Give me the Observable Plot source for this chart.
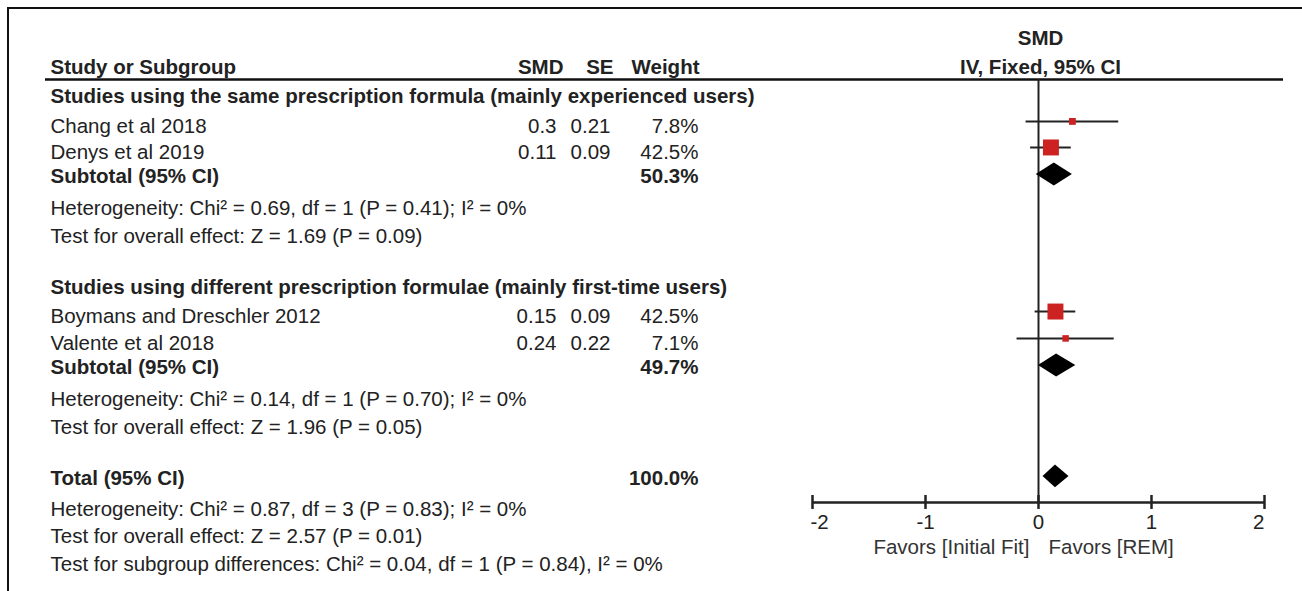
<!DOCTYPE html>
<html>
<head>
<meta charset="utf-8">
<script src="https://cdn.jsdelivr.net/npm/d3@7"></script>
<script src="https://cdn.jsdelivr.net/npm/@observablehq/plot@0.6"></script>
<style>
  html, body { margin: 0; padding: 0; background: #fff; }
  #wrap { position: relative; width: 1302px; height: 591px; overflow: hidden; }
  #border { position: absolute; left: 7px; top: 7px; right: -4px; bottom: -4px;
            border-top: 2px solid #111; border-left: 2px solid #111; pointer-events: none; }
  svg { display: block; }
</style>
</head>
<body>
<div id="wrap"><div id="border"></div></div>
<script>
// ---------- data ----------
const headerTop = "SMD";
const headerLeft = "Study or Subgroup";
const headerCols = ["SMD", "SE", "Weight"];
const headerRight = "IV, Fixed, 95% CI";
const groupTitles = [
  "Studies using the same prescription formula (mainly experienced users)",
  "Studies using different prescription formulae (mainly first-time users)"
];
const studyNames = ["Chang et al 2018", "Denys et al 2019", "Boymans and Dreschler 2012", "Valente et al 2018"];
const studySMD = [0.3, 0.11, 0.15, 0.24];
const studySE = ["0.21", "0.09", "0.09", "0.22"];
const studyWeight = [7.8, 42.5, 42.5, 7.1];
const studyLow = [-0.11, -0.07, -0.03, -0.19];
const studyHigh = [0.71, 0.29, 0.33, 0.67];
const pooledLabels = ["Subtotal (95% CI)", "Subtotal (95% CI)", "Total (95% CI)"];
const pooledWeight = ["50.3%", "49.7%", "100.0%"];
const pooledEst = [0.14, 0.16, 0.15];
const pooledLow = [-0.02, 0.00, 0.04];
const pooledHigh = [0.30, 0.33, 0.27];
const statLines = [
  "Heterogeneity: Chi² = 0.69, df = 1 (P = 0.41); I² = 0%",
  "Test for overall effect: Z = 1.69 (P = 0.09)",
  "Heterogeneity: Chi² = 0.14, df = 1 (P = 0.70); I² = 0%",
  "Test for overall effect: Z = 1.96 (P = 0.05)",
  "Heterogeneity: Chi² = 0.87, df = 3 (P = 0.83); I² = 0%",
  "Test for overall effect: Z = 2.57 (P = 0.01)",
  "Test for subgroup differences: Chi² = 0.04, df = 1 (P = 0.84), I² = 0%"
];
const xTicks = [-2, -1, 0, 1, 2];
const favorsLabels = ["Favors [Initial Fit]", "Favors [REM]"];

// ---------- layout (row positions in line units) ----------
const rowTop = 0, rowHead = 1.04, rowRule = 1.46;
const groupRows = [2.07, 8.89];
const studyRows = [3.14, 4.07, 9.93, 10.89];
const pooledRows = [4.93, 11.75, 15.71];
const statRows = [6.07, 7.07, 12.89, 13.89, 16.82, 17.79, 18.79];
const axisRow = 16.57, tickLabelRow = 17.29, favorsRow = 18.18;
const studyMarkerDy = -5, pooledMarkerDy = -2;
const diamondHalf = 0.41, tickHalf = 0.25;

const font = "'Liberation Sans', Arial, Helvetica, sans-serif";
const ink = "#222";
const red = "#cc2222";

const studies = studyNames.map((name, i) => ({
  name, smd: studySMD[i], se: studySE[i], weight: studyWeight[i],
  lo: studyLow[i], hi: studyHigh[i], row: studyRows[i]
}));
const pooled = pooledLabels.map((label, i) => ({
  label, weight: pooledWeight[i], est: pooledEst[i], lo: pooledLow[i], hi: pooledHigh[i], row: pooledRows[i]
}));
const diamonds = pooled.flatMap((p, i) => [
  {i, x: p.lo, y1: p.row, y2: p.row},
  {i, x: p.est, y1: p.row - diamondHalf, y2: p.row + diamondHalf},
  {i, x: p.hi, y1: p.row, y2: p.row}
]);
const groups = groupTitles.map((t, i) => ({t, row: groupRows[i]}));
const stats = statLines.map((t, i) => ({t, row: statRows[i]}));

const fs = 20.5;
const left = {frameAnchor: "left", textAnchor: "start", dx: 50, fontSize: fs, fill: ink};

const chart = Plot.plot({
  width: 1302,
  height: 591,
  margin: 0,
  x: {domain: [-2, 2], range: [812, 1264], axis: null},
  y: {domain: [0, 1], range: [38, 66], axis: null},
  r: {type: "sqrt", domain: [0, 42.5], range: [0, 9]},
  style: {fontFamily: font, background: "#fff", overflow: "visible"},
  marks: [
    // header
    Plot.text([headerTop], {x: 0, y: rowTop, text: d => d, fontWeight: "bold", fontSize: fs, fill: ink, dx: 2}),
    Plot.text([headerRight], {x: 0, y: rowHead, text: d => d, fontWeight: "bold", fontSize: fs, fill: ink, dx: 2}),
    Plot.text([headerLeft], {y: rowHead, text: d => d, ...left, fontWeight: "bold"}),
    Plot.text([headerCols[0]], {y: rowHead, text: d => d, frameAnchor: "left", textAnchor: "end", dx: 563, fontWeight: "bold", fontSize: fs, fill: ink}),
    Plot.text([headerCols[1]], {y: rowHead, text: d => d, frameAnchor: "left", textAnchor: "end", dx: 613, fontWeight: "bold", fontSize: fs, fill: ink}),
    Plot.text([headerCols[2]], {y: rowHead, text: d => d, frameAnchor: "left", textAnchor: "end", dx: 699, fontWeight: "bold", fontSize: fs, fill: ink}),
    Plot.ruleY([rowRule], {insetLeft: 45, insetRight: 19, stroke: "#111", strokeWidth: 2.5}),

    // table body
    Plot.text(groups, {y: "row", text: "t", ...left, fontWeight: "bold"}),
    Plot.text(studies, {y: "row", text: "name", ...left}),
    Plot.text(studies, {y: "row", text: d => String(d.smd), frameAnchor: "left", textAnchor: "end", dx: 556, fontSize: fs, fill: ink}),
    Plot.text(studies, {y: "row", text: "se", frameAnchor: "left", textAnchor: "end", dx: 610, fontSize: fs, fill: ink}),
    Plot.text(studies, {y: "row", text: d => d.weight.toFixed(1) + "%", frameAnchor: "left", textAnchor: "end", dx: 698, fontSize: fs, fill: ink}),
    Plot.text(pooled, {y: "row", text: "label", ...left, fontWeight: "bold"}),
    Plot.text(pooled, {y: "row", text: "weight", frameAnchor: "left", textAnchor: "end", dx: 698, fontSize: fs, fill: ink, fontWeight: "bold"}),
    Plot.text(stats, {y: "row", text: "t", ...left}),

    // forest
    Plot.ruleX([0], {y1: rowRule, y2: axisRow, stroke: ink, strokeWidth: 2}),
    Plot.ruleY(studies, {y: "row", x1: "lo", x2: "hi", dy: studyMarkerDy, stroke: ink, strokeWidth: 2}),
    Plot.dot(studies, {x: "smd", y: "row", r: "weight", symbol: "square", fill: red, stroke: "none", dy: studyMarkerDy}),
    Plot.area(diamonds, {x1: "x", y1: "y1", y2: "y2", z: "i", fill: "#000", curve: "linear", dy: pooledMarkerDy}),

    // axis
    Plot.ruleY([axisRow], {x1: -2, x2: 2, stroke: ink, strokeWidth: 2.5}),
    Plot.ruleX(xTicks, {x: d => d, y1: axisRow - tickHalf, y2: axisRow + tickHalf, stroke: ink, strokeWidth: 2.5}),
    Plot.text(xTicks.filter(d => d === -2), {x: d => d, y: tickLabelRow, text: d => String(d), textAnchor: "start", fontSize: fs, fill: ink, dx: -2}),
    Plot.text(xTicks.filter(d => d > -2 && d < 2), {x: d => d, y: tickLabelRow, text: d => String(d), textAnchor: "middle", fontSize: fs, fill: ink}),
    Plot.text(xTicks.filter(d => d === 2), {x: d => d, y: tickLabelRow, text: d => String(d), textAnchor: "end", fontSize: fs, fill: ink}),
    Plot.text([favorsLabels[0]], {x: 0, y: favorsRow, text: d => d, textAnchor: "end", dx: -9, fontSize: fs, fill: "#333"}),
    Plot.text([favorsLabels[1]], {x: 0, y: favorsRow, text: d => d, textAnchor: "start", dx: 10, fontSize: fs, fill: "#333"})
  ]
});
document.getElementById("wrap").prepend(chart);
</script>
</body>
</html>
